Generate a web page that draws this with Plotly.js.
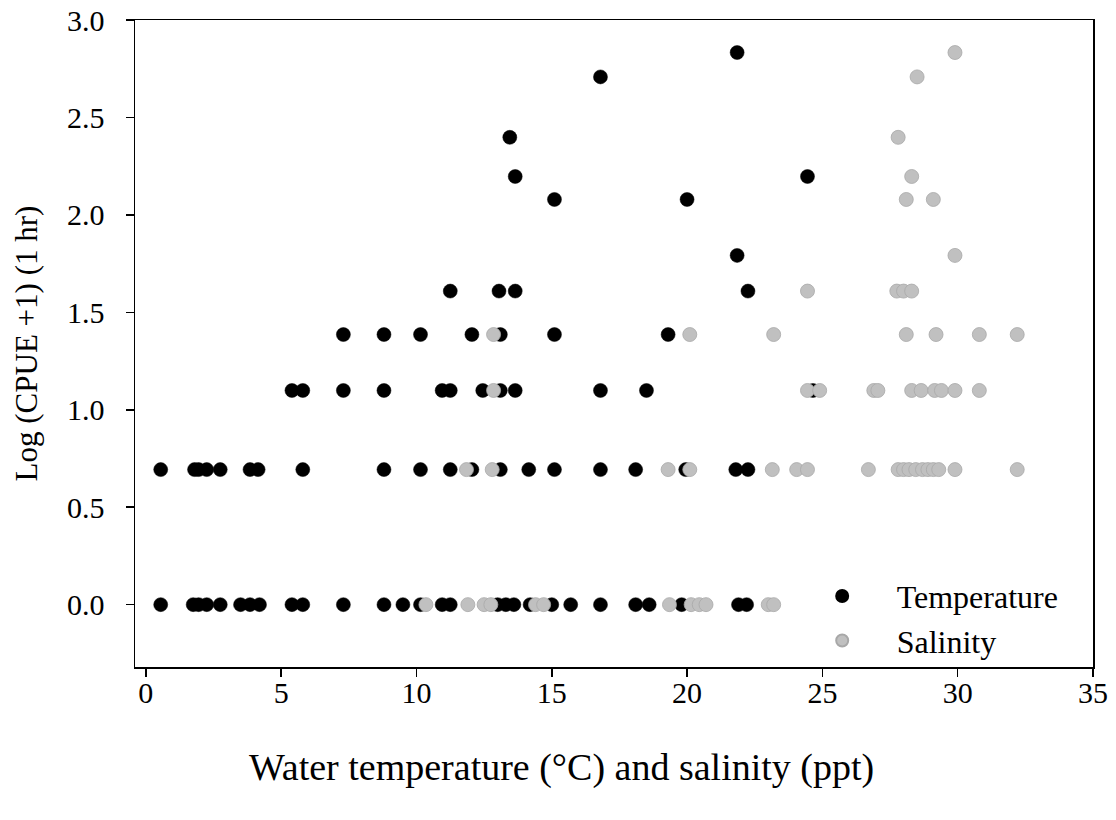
<!DOCTYPE html>
<html>
<head>
<meta charset="utf-8">
<script src="https://cdn.plot.ly/plotly-3.0.1.min.js"></script>
<style>html,body{margin:0;padding:0;background:#fff;}#chart{width:1116px;height:820px;}</style>
</head>
<body>
<div id="chart"></div>
<script>
// Log(CPUE+1) levels: ln(1), ln(2), ln(3), ...
const levels = [0, 0.693, 1.099, 1.386, 1.609, 1.792, 2.079, 2.197, 2.398, 2.708, 2.833];

// Temperature (°C) observed at each level
const tempAt0    = [0.55, 1.75, 1.95, 2.25, 2.75, 3.5, 3.85, 4.2, 5.4, 5.8, 7.3, 8.8, 9.5, 10.15, 10.95, 11.25, 13.0, 13.3, 13.6, 14.2, 15.0, 15.7, 16.8, 18.1, 18.6, 19.8, 21.9, 22.2];
const tempAt069  = [0.55, 1.8, 1.95, 2.25, 2.75, 3.85, 4.15, 5.8, 8.8, 10.15, 11.25, 12.05, 13.1, 14.15, 15.1, 16.8, 18.1, 19.95, 21.8, 22.25];
const tempAt110  = [5.4, 5.8, 7.3, 8.8, 10.95, 11.25, 12.45, 13.1, 13.65, 16.8, 18.5, 24.65];
const tempAt139  = [7.3, 8.8, 10.15, 12.05, 13.1, 15.1, 19.3];
const tempAt161  = [11.25, 13.05, 13.65, 22.25];
const tempAt179  = [21.85];
const tempAt208  = [15.1, 20.0];
const tempAt220  = [13.65, 24.45];
const tempAt240  = [13.45];
const tempAt271  = [16.8];
const tempAt283  = [21.85];

// Salinity (ppt) observed at each level
const salAt0     = [10.35, 11.9, 12.5, 12.75, 14.4, 14.7, 19.35, 20.15, 20.45, 20.7, 23.0, 23.2];
const salAt069   = [11.85, 12.8, 19.3, 20.1, 23.15, 24.05, 24.45, 26.7, 27.8, 28.0, 28.2, 28.45, 28.7, 28.9, 29.1, 29.3, 29.9, 32.2];
const salAt110   = [12.85, 24.45, 24.9, 26.9, 27.05, 28.3, 28.65, 29.15, 29.4, 29.9, 30.8];
const salAt139   = [12.85, 20.1, 23.2, 28.1, 29.2, 30.8, 32.2];
const salAt161   = [24.45, 27.75, 28.0, 28.3];
const salAt179   = [29.9];
const salAt208   = [28.1, 29.1];
const salAt220   = [28.3];
const salAt240   = [27.8];
const salAt271   = [28.5];
const salAt283   = [29.9];

const tempGroups = [tempAt0, tempAt069, tempAt110, tempAt139, tempAt161, tempAt179, tempAt208, tempAt220, tempAt240, tempAt271, tempAt283];
const salGroups  = [salAt0, salAt069, salAt110, salAt139, salAt161, salAt179, salAt208, salAt220, salAt240, salAt271, salAt283];

const xTicks = [0, 5, 10, 15, 20, 25, 30, 35];
const yTicks = [0, 0.5, 1.0, 1.5, 2.0, 2.5, 3.0];
const yTickText = ['0.0', '0.5', '1.0', '1.5', '2.0', '2.5', '3.0'];
const xTitle = 'Water temperature (°C) and salinity (ppt)';
const yTitle = 'Log (CPUE +1) (1 hr)';
const names = ['Temperature', 'Salinity'];

function flatten(groups) {
  const xs = [], ys = [];
  groups.forEach((g, i) => g.forEach(v => { xs.push(v); ys.push(levels[i]); }));
  return {xs, ys};
}
const T = flatten(tempGroups);
const S = flatten(salGroups);

const font = 'Liberation Serif, Times New Roman, serif';
const pad = '\u00a0\u00a0';

const traces = [
  {x: T.xs, y: T.ys, type: 'scatter', mode: 'markers', name: pad + names[0],
   marker: {color: '#000000', size: 14, line: {color: '#000000', width: 0.5}}},
  {x: S.xs, y: S.ys, type: 'scatter', mode: 'markers', name: pad + names[1],
   marker: {color: '#c0c0c0', size: 14, line: {color: '#a8a8a8', width: 0.8}}}
];

const layout = {
  width: 1116, height: 820,
  margin: {l: 135, r: 23, t: 20, b: 153},
  paper_bgcolor: '#ffffff', plot_bgcolor: '#ffffff',
  font: {family: font, size: 30, color: '#000'},
  showlegend: true,
  legend: {x: 0.698, y: 0.152, xanchor: 'left', yanchor: 'top', bgcolor: 'rgba(0,0,0,0)',
           font: {family: font, size: 32, color: '#000'}, itemsizing: 'constant', itemwidth: 67,
           tracegroupgap: 0},
  xaxis: {
    range: [-0.4, 35], tickvals: xTicks, ticktext: xTicks.map(String),
    showgrid: false, zeroline: false, showline: true, linecolor: '#000', linewidth: 1.5, mirror: true,
    ticks: 'outside', ticklen: 8, tickwidth: 1.5, tickcolor: '#000',
    tickfont: {family: font, size: 30}, ticklabelstandoff: -10
  },
  yaxis: {
    range: [-0.32, 3.0], tickvals: yTicks, ticktext: yTickText,
    showgrid: false, zeroline: false, showline: true, linecolor: '#000', linewidth: 1.5, mirror: true,
    ticks: 'outside', ticklen: 8, tickwidth: 1.5, tickcolor: '#000',
    tickfont: {family: font, size: 30}, ticklabelstandoff: 15,
    title: {text: yTitle, font: {family: font, size: 31}, standoff: 20}
  },
  annotations: [{
    text: xTitle, xref: 'paper', yref: 'paper', x: 0.445, y: -0.156,
    xanchor: 'center', yanchor: 'middle', showarrow: false,
    font: {family: font, size: 38, color: '#000'}
  }]
};

Plotly.newPlot('chart', traces, layout, {displayModeBar: false, staticPlot: true});
</script>
</body>
</html>
